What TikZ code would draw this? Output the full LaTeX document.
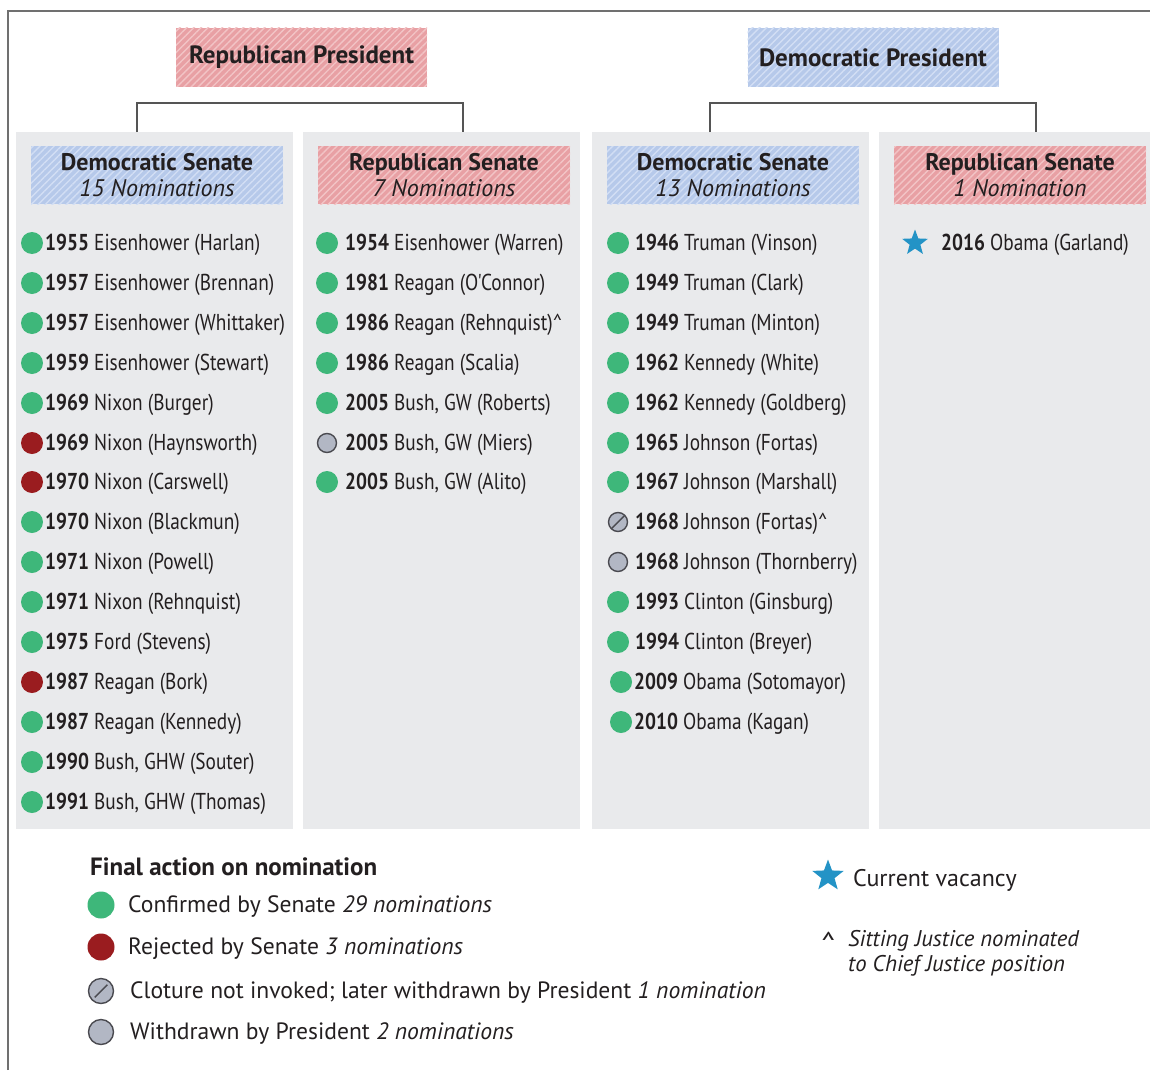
\documentclass[tikz,border=0pt]{standalone}
\usepackage{fontspec}
\setmainfont{PT Sans}
\newfontfamily\cond[FakeStretch=0.84]{PT Sans}
\usetikzlibrary{patterns.meta,shapes.geometric}
\definecolor{bgcol}{HTML}{E9EAEC}
\definecolor{confc}{HTML}{3EB77A}
\definecolor{rejc}{HTML}{9A1C1F}
\definecolor{wdc}{HTML}{B2B7C4}
\definecolor{wdline}{HTML}{4A4A50}
\definecolor{starc}{HTML}{2393C6}
\definecolor{redbase}{HTML}{E8A0A4}
\definecolor{redstripe}{HTML}{F2C4C6}
\definecolor{bluebase}{HTML}{B6C9EA}
\definecolor{bluestripe}{HTML}{D2DEF4}
\definecolor{txt}{HTML}{231F20}
\definecolor{linec}{HTML}{555555}
\definecolor{framec}{HTML}{707070}
\tikzset{
  colbg/.style={fill=bgcol, inner sep=0, outer sep=0, anchor=north west, minimum height=697},
  redhatch/.style={fill=redbase, postaction={pattern={Lines[angle=45,distance=5pt,line width=1.4pt]}, pattern color=redstripe}},
  bluehatch/.style={fill=bluebase, postaction={pattern={Lines[angle=45,distance=5pt,line width=1.4pt]}, pattern color=bluestripe}},
  pres/.style={inner sep=0, minimum width=251, minimum height=59, text=txt, font=\fontsize{25}{28}\selectfont\bfseries},
  sen/.style={inner sep=0, minimum width=252, minimum height=58, text=txt, align=center, font=\fontsize{24}{26}\selectfont},
  item/.style={anchor=west, inner sep=0, text=txt, font=\cond\fontsize{23}{24}\selectfont},
  conf/.style={circle, fill=confc, minimum size=22, inner sep=0},
  rej/.style={circle, fill=rejc, minimum size=22, inner sep=0},
  wd/.style={circle, fill=wdc, draw=wdline, line width=1.4, minimum size=19, inner sep=0},
  clo/.style={wd, path picture={\draw[wdline, line width=1.4] (path picture bounding box.center) +(-135:9pt) -- +(45:9pt);}},
  vstar/.style={star, star points=5, star point ratio=2.4, fill=starc, minimum size=27, inner sep=0},
  leg/.style={anchor=west, inner sep=0, text=txt, font=\fontsize{23.6}{26}\selectfont},
  bracket/.style={draw=linec, line width=1.5},
}
\begin{document}
\begin{tikzpicture}[x=1pt,y=-1pt]
\useasboundingbox (0,0) rectangle (1150,1070);
\fill[white] (0,0) rectangle (1150,1070);
\draw[framec, line width=2] (8,1070) -- (8,11) -- (1150,11);

% columns
\node[colbg, minimum width=277] (c1) at (16,132) {};
\node[colbg, minimum width=277] (c2) at (303,132) {};
\node[colbg, minimum width=277] (c3) at (592,132) {};
\node[colbg, minimum width=271] (c4) at (879,132) {};

% presidents
\node[pres, redhatch] (rp) at (301.5,57.5) {Republican President};
\node[pres, bluehatch] (dp) at (873,57.5) {Democratic President};

% brackets
\coordinate (rb1) at (137,132); \coordinate (rb2) at (463,132);
\coordinate (db1) at (710,132); \coordinate (db2) at (1036,132);
\draw[bracket] (rb1) -- (137,103) -- (463,103) -- (rb2);
\draw[bracket] (db1) -- (710,103) -- (1036,103) -- (db2);

% senate headers
\node[sen, bluehatch] (s1) at (157,175) {\textbf{Democratic Senate}\\\textit{15 Nominations}};
\node[sen, redhatch] (s2) at (444,175) {\textbf{Republican Senate}\\\textit{7 Nominations}};
\node[sen, bluehatch] (s3) at (733,175) {\textbf{Democratic Senate}\\\textit{13 Nominations}};
\node[sen, redhatch] (s4) at (1020,175) {\textbf{Republican Senate}\\\textit{1 Nomination}};

% column 1
\node[conf] (a1d) at (32,243) {};  \node[item] (a1) at (45,245) {\textbf{1955} Eisenhower (Harlan)};
\node[conf] (a2d) at (32,283) {};  \node[item] (a2) at (45,285) {\textbf{1957} Eisenhower (Brennan)};
\node[conf] (a3d) at (32,323) {};  \node[item] (a3) at (45,325) {\textbf{1957} Eisenhower (Whittaker)};
\node[conf] (a4d) at (32,363) {};  \node[item] (a4) at (45,365) {\textbf{1959} Eisenhower (Stewart)};
\node[conf] (a5d) at (32,403) {};  \node[item] (a5) at (45,405) {\textbf{1969} Nixon (Burger)};
\node[rej] (a6d) at (32,443) {};   \node[item] (a6) at (45,445) {\textbf{1969} Nixon (Haynsworth)};
\node[rej] (a7d) at (32,482) {};   \node[item] (a7) at (45,484) {\textbf{1970} Nixon (Carswell)};
\node[conf] (a8d) at (32,522) {};  \node[item] (a8) at (45,524) {\textbf{1970} Nixon (Blackmun)};
\node[conf] (a9d) at (32,562) {};  \node[item] (a9) at (45,564) {\textbf{1971} Nixon (Powell)};
\node[conf] (a10d) at (32,602) {}; \node[item] (a10) at (45,604) {\textbf{1971} Nixon (Rehnquist)};
\node[conf] (a11d) at (32,642) {}; \node[item] (a11) at (45,644) {\textbf{1975} Ford (Stevens)};
\node[rej] (a12d) at (32,682) {};  \node[item] (a12) at (45,684) {\textbf{1987} Reagan (Bork)};
\node[conf] (a13d) at (32,722) {}; \node[item] (a13) at (45,724) {\textbf{1987} Reagan (Kennedy)};
\node[conf] (a14d) at (32,762) {}; \node[item] (a14) at (45,764) {\textbf{1990} Bush, GHW (Souter)};
\node[conf] (a15d) at (32,802) {}; \node[item] (a15) at (45,804) {\textbf{1991} Bush, GHW (Thomas)};

% column 2
\node[conf] (b1d) at (327,243) {}; \node[item] (b1) at (345,245) {\textbf{1954} Eisenhower (Warren)};
\node[conf] (b2d) at (327,283) {}; \node[item] (b2) at (345,285) {\textbf{1981} Reagan (O'Connor)};
\node[conf] (b3d) at (327,323) {}; \node[item] (b3) at (345,325) {\textbf{1986} Reagan (Rehnquist)\textasciicircum};
\node[conf] (b4d) at (327,363) {}; \node[item] (b4) at (345,365) {\textbf{1986} Reagan (Scalia)};
\node[conf] (b5d) at (327,403) {}; \node[item] (b5) at (345,405) {\textbf{2005} Bush, GW (Roberts)};
\node[wd] (b6d) at (327,443) {};   \node[item] (b6) at (345,445) {\textbf{2005} Bush, GW (Miers)};
\node[conf] (b7d) at (327,482) {}; \node[item] (b7) at (345,484) {\textbf{2005} Bush, GW (Alito)};

% column 3
\node[conf] (e1d) at (618,243) {};  \node[item] (e1) at (635,245) {\textbf{1946} Truman (Vinson)};
\node[conf] (e2d) at (618,283) {};  \node[item] (e2) at (635,285) {\textbf{1949} Truman (Clark)};
\node[conf] (e3d) at (618,323) {};  \node[item] (e3) at (635,325) {\textbf{1949} Truman (Minton)};
\node[conf] (e4d) at (618,363) {};  \node[item] (e4) at (635,365) {\textbf{1962} Kennedy (White)};
\node[conf] (e5d) at (618,403) {};  \node[item] (e5) at (635,405) {\textbf{1962} Kennedy (Goldberg)};
\node[conf] (e6d) at (618,443) {};  \node[item] (e6) at (635,445) {\textbf{1965} Johnson (Fortas)};
\node[conf] (e7d) at (618,482) {};  \node[item] (e7) at (635,484) {\textbf{1967} Johnson (Marshall)};
\node[clo] (e8d) at (618,522) {};   \node[item] (e8) at (635,524) {\textbf{1968} Johnson (Fortas)\textasciicircum};
\node[wd] (e9d) at (618,562) {};    \node[item] (e9) at (635,564) {\textbf{1968} Johnson (Thornberry)};
\node[conf] (e10d) at (618,602) {}; \node[item] (e10) at (635,604) {\textbf{1993} Clinton (Ginsburg)};
\node[conf] (e11d) at (618,642) {}; \node[item] (e11) at (635,644) {\textbf{1994} Clinton (Breyer)};
\node[conf] (e12d) at (621,682) {}; \node[item] (e12) at (634,684) {\textbf{2009} Obama (Sotomayor)};
\node[conf] (e13d) at (621,722) {}; \node[item] (e13) at (634,724) {\textbf{2010} Obama (Kagan)};

% column 4
\node[vstar] (f1d) at (915,243) {}; \node[item] (f1) at (941,245) {\textbf{2016} Obama (Garland)};

% legend
\node[leg, font=\fontsize{25}{28}\selectfont\bfseries] (lh) at (90,867) {Final action on nomination};
\node[conf, minimum size=27] (l1d) at (101,905) {};
\node[leg] (l1) at (128,907) {Confirmed by Senate \textit{29 nominations}};
\node[rej, minimum size=27] (l2d) at (101,947) {};
\node[leg] (l2) at (128,949) {Rejected by Senate \textit{3 nominations}};
\node[clo, minimum size=25] (l3d) at (101,991) {};
\node[leg] (l3) at (130,993) {Cloture not invoked; later withdrawn by President \textit{1 nomination}};
\node[wd, minimum size=25] (l4d) at (101,1032) {};
\node[leg] (l4) at (130,1034) {Withdrawn by President \textit{2 nominations}};

\node[vstar, minimum size=33] (lsd) at (828,876) {};
\node[leg, font=\fontsize{24}{26}\selectfont] (ls) at (853,880) {Current vacancy};
\node[leg, font=\fontsize{30}{30}\selectfont] (lc) at (821,943) {\textasciicircum};
\node[leg, align=left, font=\fontsize{22.7}{25}\selectfont\itshape, anchor=north west] (lcn) at (848,930) {Sitting Justice nominated\\to Chief Justice position};
\end{tikzpicture}
\end{document}
